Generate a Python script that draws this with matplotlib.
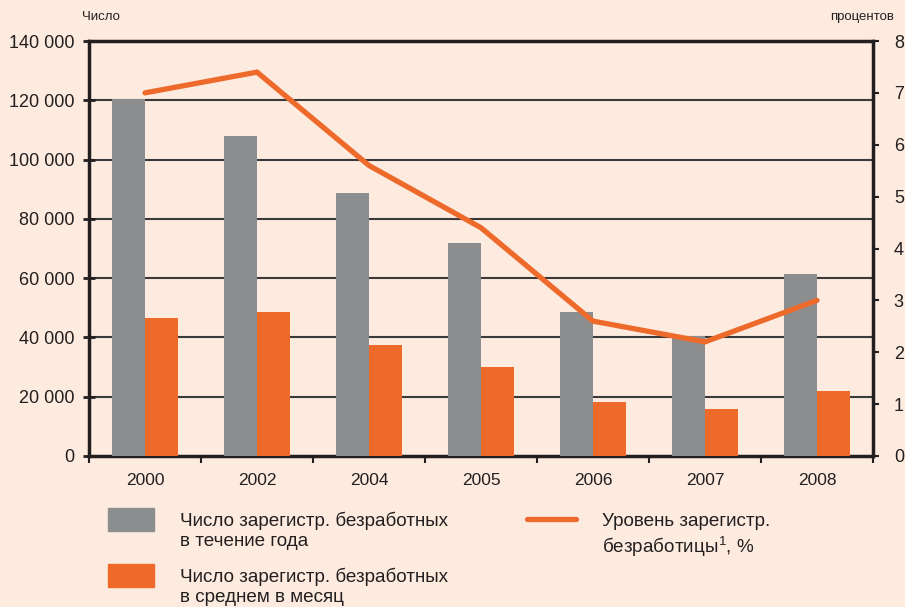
import matplotlib
matplotlib.use("Agg")
import matplotlib.pyplot as plt
import numpy as np
from matplotlib.patches import Rectangle
from matplotlib.lines import Line2D

plt.rcParams['font.family'] = ['Liberation Sans', 'DejaVu Sans']
plt.rcParams['mathtext.fontset'] = 'custom'
plt.rcParams['mathtext.rm'] = 'Liberation Sans'
plt.rcParams['mathtext.it'] = 'Liberation Sans'

years = ["2000", "2002", "2004", "2005", "2006", "2007", "2008"]
total_year = [120400, 108000, 88600, 71800, 48700, 40500, 61400]
avg_month = [46500, 48500, 37400, 30000, 18200, 15900, 22000]
rate = [7.0, 7.4, 5.6, 4.4, 2.6, 2.2, 3.0]
left_ticks = [0, 20000, 40000, 60000, 80000, 100000, 120000, 140000]
left_labels = ["0", "20 000", "40 000", "60 000", "80 000", "100 000", "120 000", "140 000"]
right_ticks = [0, 1, 2, 3, 4, 5, 6, 7, 8]

BG = "#FDEBE0"
GRAY = "#8C8D8F"
ORANGE = "#EE6A2B"
DARK = "#231F20"

fig = plt.figure(figsize=(9.05, 6.07), dpi=100, facecolor=BG)
ax = fig.add_axes([89/905, 1-456/607, (873-89)/905, (456-41)/607])
ax.set_facecolor(BG)

x = np.arange(len(years))
w = 0.295
ax.bar(x - w/2, total_year, width=w, color=GRAY, zorder=3)
ax.bar(x + w/2, avg_month, width=w, color=ORANGE, zorder=3)

ax.set_xlim(-0.5, len(years) - 0.5)
ax.set_ylim(0, 140000)
ax.set_yticks(left_ticks)
ax.set_yticklabels(left_labels, fontsize=13, color=DARK)
for t in left_ticks[1:]:
    ax.axhline(t, color="#3A3A3A", lw=1.5, zorder=1)

ax.set_xticks(np.arange(len(years) + 1) - 0.5)
ax.set_xticklabels([])
ax.set_xticks(x, minor=True)
ax.set_xticklabels(years, minor=True, fontsize=12.5, color=DARK)
ax.tick_params(axis='x', which='major', direction='out', length=5, width=1.5, color=DARK)
ax.tick_params(axis='x', which='minor', length=0, pad=12)
ax.tick_params(axis='y', direction='inout', length=9, width=2, color=DARK, pad=6)

for s in ['left', 'bottom', 'right', 'top']:
    ax.spines[s].set_linewidth(2.5)
    ax.spines[s].set_color(DARK)

ax2 = ax.twinx()
ax2.set_ylim(0, 8)
ax2.set_yticks(right_ticks)
ax2.set_yticklabels([str(t) for t in right_ticks], fontsize=13, color=DARK)
ax2.tick_params(axis='y', direction='out', length=4, width=1.5, color=DARK, pad=11)
for s in ax2.spines.values():
    s.set_visible(False)
ax2.plot(x, rate, color=ORANGE, lw=3.8, solid_capstyle='round', solid_joinstyle='miter', zorder=5)

fig.text(82/905, 1-17/607, "Число", fontsize=9.5, color=DARK, ha='left', va='center')
fig.text(830/905, 1-17/607, "процентов", fontsize=9.5, color=DARK, ha='left', va='center')

# Legend
fig.patches.append(Rectangle((108/905, 1-531/607), 46/905, 23/607, transform=fig.transFigure,
                             color=GRAY, figure=fig))
fig.patches.append(Rectangle((108/905, 1-587/607), 46/905, 23/607, transform=fig.transFigure,
                             color=ORANGE, figure=fig))
fig.text(180/905, 1-531/607, "Число зарегистр. безработных\nв течение года", fontsize=13.6,
         color=DARK, ha='left', va='center', linespacing=1.25)
fig.text(180/905, 1-587/607, "Число зарегистр. безработных\nв среднем в месяц", fontsize=13.6,
         color=DARK, ha='left', va='center', linespacing=1.25)
fig.lines.append(Line2D([527/905, 576/905], [1-519/607, 1-519/607], transform=fig.transFigure,
                        color=ORANGE, lw=3.8, solid_capstyle='round', figure=fig))
fig.text(602/905, 1-536/607, "Уровень зарегистр.\nбезработицы$^{1}$, %", fontsize=13.6,
         color=DARK, ha='left', va='center', linespacing=1.25)

fig.savefig("out.png", dpi=100, facecolor=BG)
